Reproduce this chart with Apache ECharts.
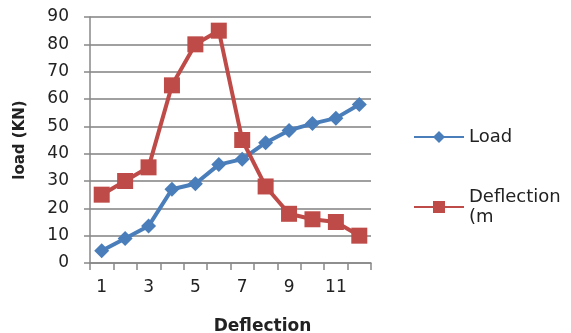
<!DOCTYPE html>
<html>
<head>
<meta charset="utf-8">
<script src="https://cdn.jsdelivr.net/npm/echarts@6/dist/echarts.min.js"></script>
<style>html,body{margin:0;padding:0;background:#fff}#c{width:571px;height:333px}</style>
</head>
<body>
<div id="c"></div>
<script>
var categories = ['1','2','3','4','5','6','7','8','9','10','11','12'];
var xTickLabels = ['1','3','5','7','9','11'];
var loadValues = [4.5, 9, 13.5, 27, 29, 36, 38, 44, 48.5, 51, 53, 58];
var deflectionValues = [25, 30, 35, 65, 80, 85, 45, 28, 18, 16, 15, 10];
var yTicks = [0, 10, 20, 30, 40, 50, 60, 70, 80, 90];

var font = 'DejaVu Sans';
var chart = echarts.init(document.getElementById('c'));
chart.setOption({
  animation: false,
  textStyle: {fontFamily: font},
  grid: {left: 90, right: 200, top: 17, bottom: 70, outerBoundsMode: 'none', containLabel: false},
  legend: {
    orient: 'vertical', left: 408, top: 122, itemGap: 40,
    itemWidth: 50, itemHeight: 15,
    textStyle: {fontSize: 18, color: '#222', fontFamily: font, lineHeight: 20},
    formatter: function (n) { return n === 'Deflection (m' ? 'Deflection\n(m' : n; },
    data: ['Load', 'Deflection (m']
  },
  xAxis: {
    type: 'category', data: categories, boundaryGap: true,
    name: 'Deflection', nameLocation: 'middle', nameGap: 55,
    nameTextStyle: {fontSize: 17, fontWeight: 'bold', color: '#222', fontFamily: font, padding: [0, 0, 0, 64]},
    axisLine: {lineStyle: {color: '#888', width: 1.5}},
    axisTick: {show: true, interval: 0, length: 7, lineStyle: {color: '#888', width: 1.5}},
    axisLabel: {
      interval: 0, fontSize: 17, color: '#222', margin: 16,
      formatter: function (v) { return xTickLabels.indexOf(v) >= 0 ? v : ''; }
    }
  },
  yAxis: {
    type: 'value', min: yTicks[0], max: yTicks[yTicks.length - 1], interval: 10,
    name: 'load (KN)', nameLocation: 'middle', nameGap: 62, nameRotate: 90,
    nameTextStyle: {fontSize: 15, fontWeight: 'bold', color: '#222', fontFamily: font},
    axisLine: {show: true, lineStyle: {color: '#888', width: 1.5}},
    axisTick: {show: true, length: 6, lineStyle: {color: '#888', width: 1.5}},
    axisLabel: {fontSize: 17, color: '#222', margin: 21},
    splitLine: {lineStyle: {color: '#a0a0a0', width: 2}}
  },
  series: [
    {
      name: 'Load', type: 'line', data: loadValues, showAllSymbol: true,
      symbol: 'diamond', symbolSize: 15,
      lineStyle: {color: '#4a7ebb', width: 4},
      itemStyle: {color: '#4a7ebb'}
    },
    {
      name: 'Deflection (m', type: 'line', data: deflectionValues, showAllSymbol: true,
      symbol: 'rect', symbolSize: 16,
      lineStyle: {color: '#be4b48', width: 4},
      itemStyle: {color: '#be4b48'}
    }
  ]
});
</script>
</body>
</html>
